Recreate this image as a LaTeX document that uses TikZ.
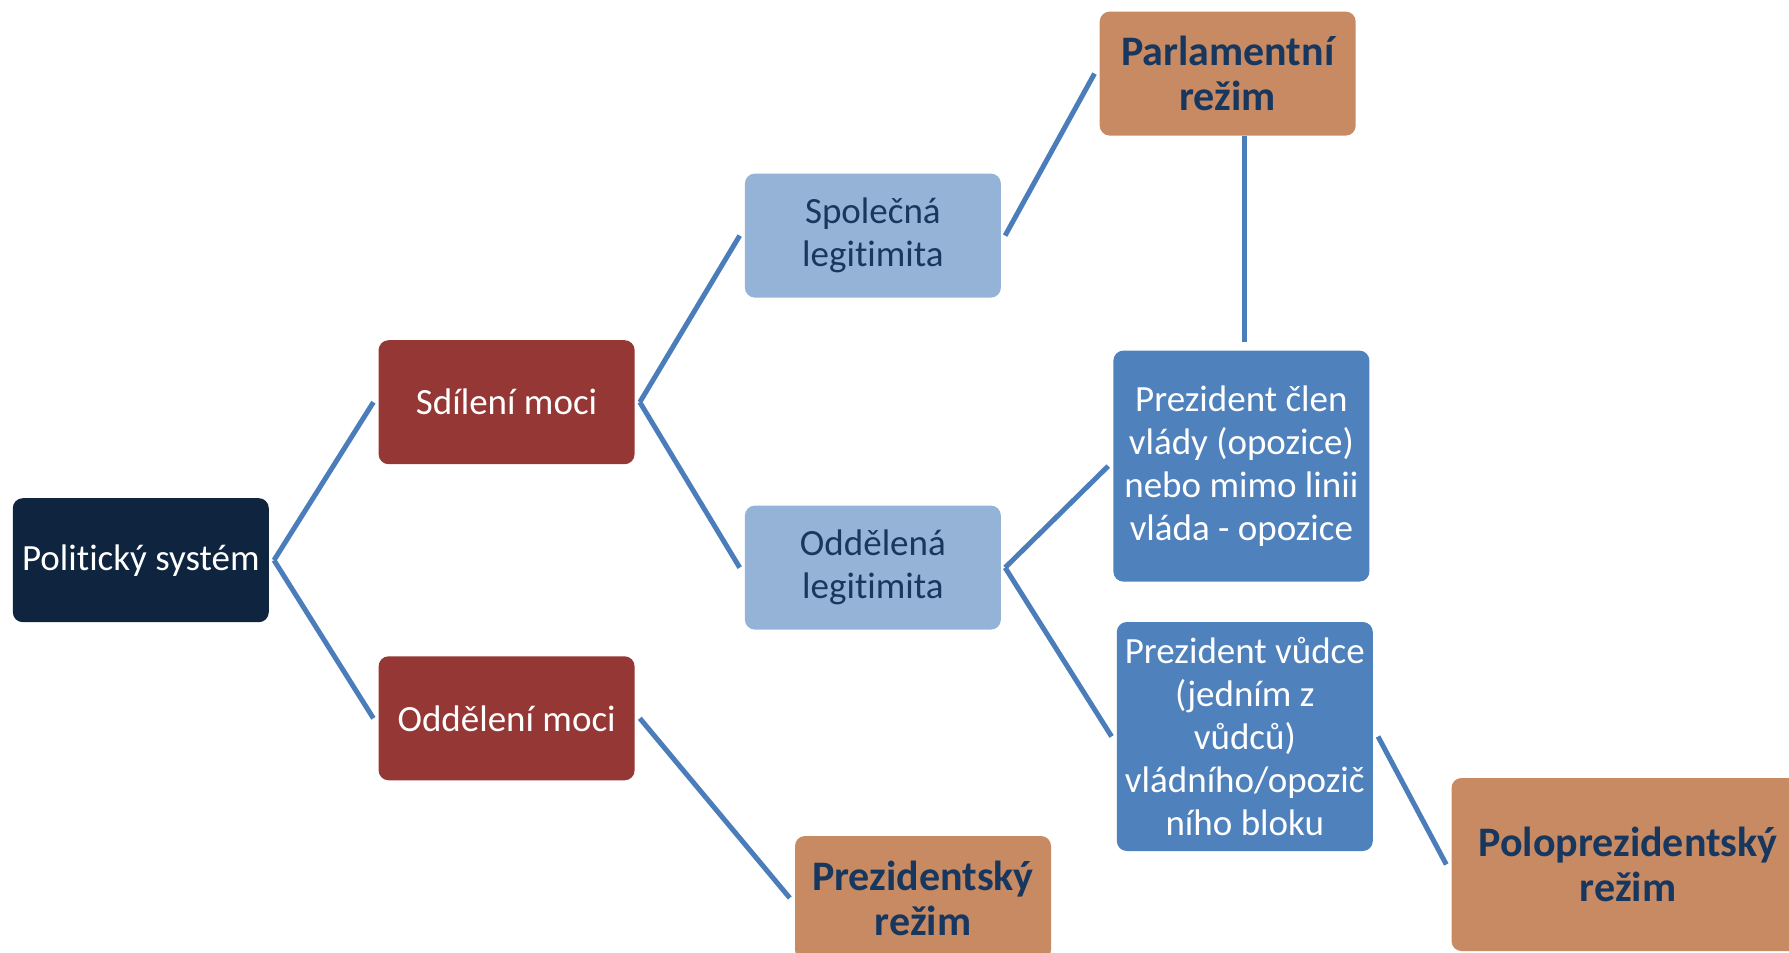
\documentclass[tikz,border=0pt]{standalone}
\usepackage{fontspec}
\setmainfont{Carlito}[Ligatures={NoCommon,NoRequired,NoContextual}]
\usetikzlibrary{calc}
\definecolor{navybox}{HTML}{0F243E}
\definecolor{redbox}{HTML}{953735}
\definecolor{lightbox}{HTML}{95B3D7}
\definecolor{tanbox}{HTML}{C78A63}
\definecolor{bluebox}{HTML}{4F81BD}
\definecolor{darktext}{HTML}{17375E}
\definecolor{linkcol}{HTML}{4A7DBA}
\begin{document}
\begin{tikzpicture}[x=1pt,y=-1pt,
  box/.style={rounded corners=10pt, inner sep=0pt, minimum width=256pt, minimum height=124pt, align=center, font=\fontsize{37}{43}\selectfont},
  navy/.style={box, fill=navybox, text=white},
  redb/.style={box, fill=redbox, text=white},
  light/.style={box, fill=lightbox, text=darktext},
  blueb/.style={box, fill=bluebox, text=white},
  tanb/.style={box, fill=tanbox, text=darktext, font=\fontsize{42}{45}\selectfont\bfseries},
  link/.style={draw=linkcol, line width=5pt}
]
\useasboundingbox (0,0) rectangle (1789,953);
\clip (0,0) rectangle (1789,953);
\node[navy] (pol) at (140.8,560.2) {Politický systém};
\node[redb] (sd) at (506.6,402.2) {Sdílení moci};
\node[redb] (od) at (506.6,718.3) {Oddělení moci};
\node[light] (sp) at (872.9,235.6) {Společná\\legitimita};
\node[light] (odl) at (872.9,567.6) {Oddělená\\legitimita};
\node[tanb] (parl) at (1227.7,73.6) {Parlamentní\\režim};
\node[blueb, minimum height=231pt] (pc) at (1241.4,466.1) {Prezident člen\\vlády (opozice)\\nebo mimo linii\\vláda - opozice};
\node[blueb, minimum height=229pt] (pv) at (1244.8,736.5) {Prezident vůdce\\(jedním z\\vůdců)\\vládního/opozič\\ního bloku};
\node[tanb] (prez) at (923,898) {Prezidentský\\režim};
\node[tanb, minimum width=353pt, minimum height=173pt] (polo) at (1628,864.5) {Poloprezidentský\\režim};
\draw[link] ($(pol.east)+(5,0)$) -- ($(sd.west)+(-5,0)$);
\draw[link] ($(pol.east)+(5,0)$) -- ($(od.west)+(-5,0)$);
\draw[link] ($(sd.east)+(5,0)$) -- ($(sp.west)+(-5,0)$);
\draw[link] ($(sd.east)+(5,0)$) -- ($(odl.west)+(-5,0)$);
\draw[link] ($(od.east)+(5,0)$) -- ($(prez.west)+(-5,0)$);
\draw[link] ($(sp.east)+(4,0)$) -- ($(parl.west)+(-5,0)$);
\draw[link] ($(odl.east)+(4,0)$) -- ($(pc.west)+(-5,0)$);
\draw[link] ($(odl.east)+(4,0)$) -- ($(pv.west)+(-5,0)$);
\draw[link] ($(pv.east)+(5,0)$) -- ($(polo.west)+(-5,0)$);
\draw[link] ($(pc.north)+(3,-8)$) -- ($(pc.north |- parl.south)+(3,0)$);
\end{tikzpicture}
\end{document}
